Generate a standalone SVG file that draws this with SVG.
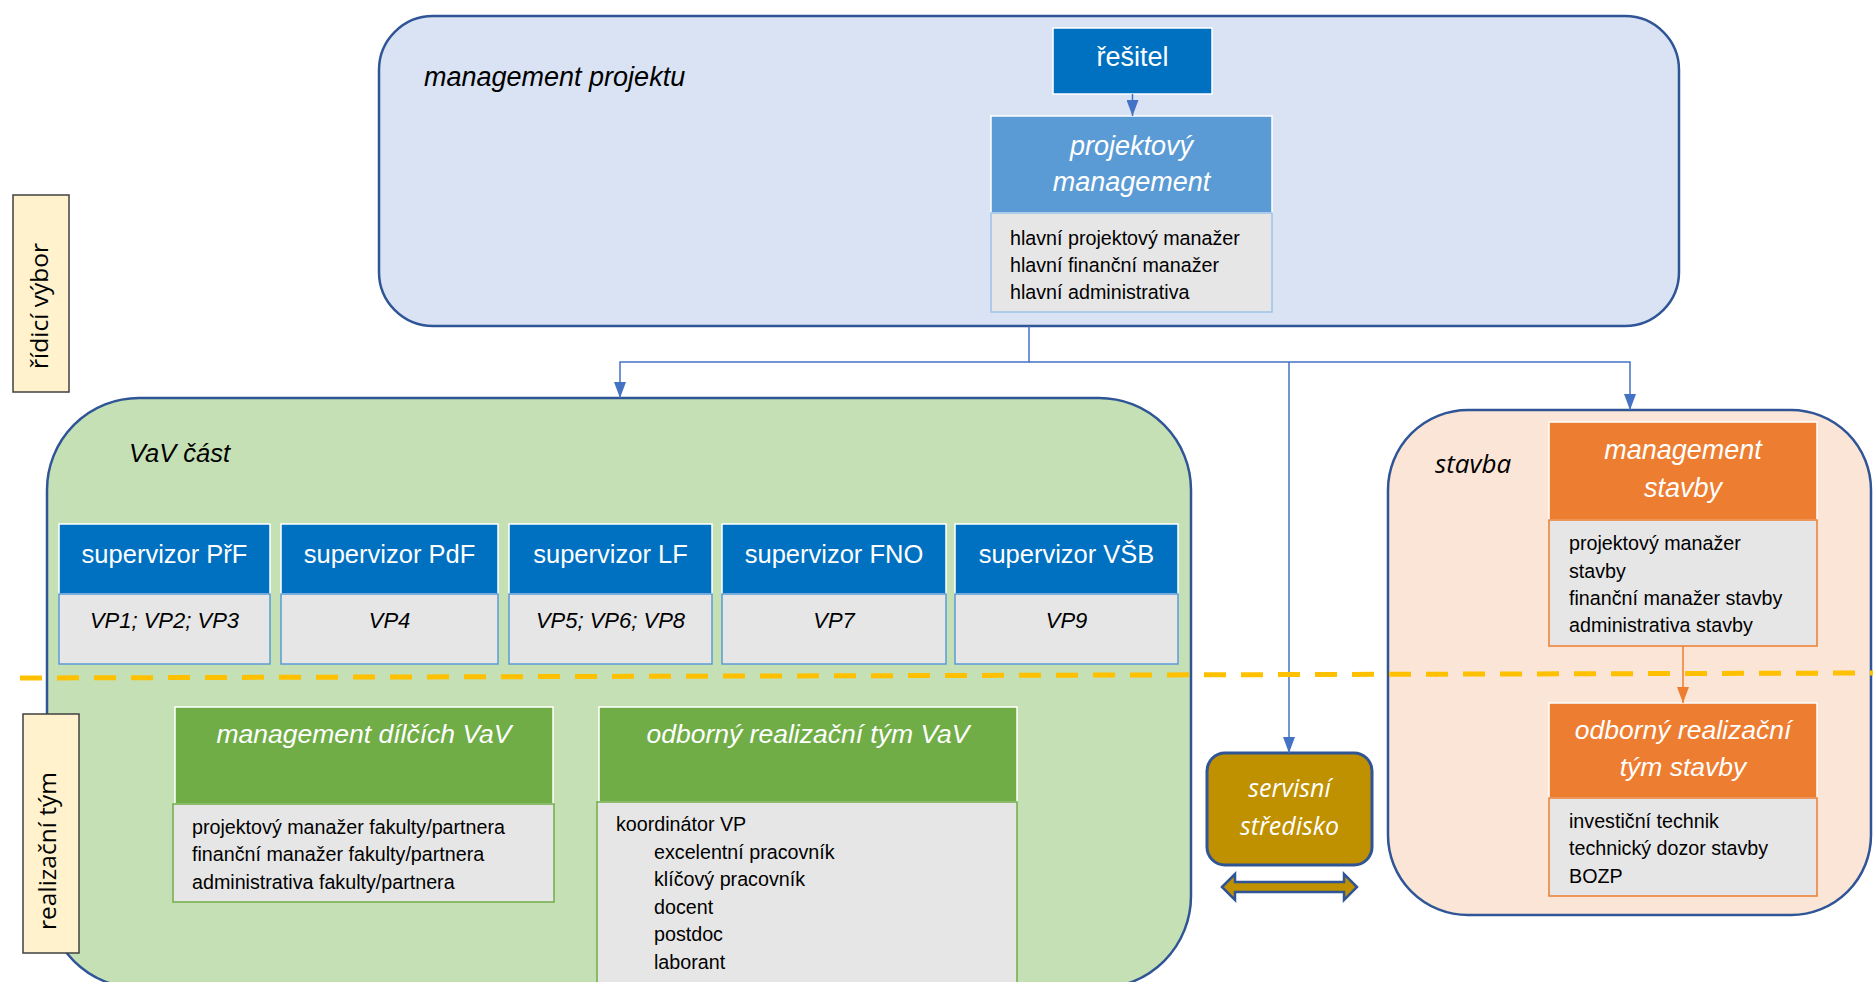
<svg xmlns="http://www.w3.org/2000/svg" width="1873" height="982" viewBox="0 0 1873 982">
<defs>
<style>
.t{font-family:"Liberation Sans",Arial,sans-serif}
.os{font-family:"Open Sans","DejaVu Sans",sans-serif}
.it{font-style:italic}
.w{fill:#FFFFFF}
.k{fill:#000000}
.mid{text-anchor:middle}
.cont{stroke:#2F5597;stroke-width:2.5}
.lbl{fill:#FFF2CC;stroke:#404040;stroke-width:1.5}
.hb{fill:#0070C0;stroke:#FFFFFF;stroke-width:1.5}
.hl{fill:#5B9BD5;stroke:#FFFFFF;stroke-width:1.5}
.hg{fill:#70AD47;stroke:#FFFFFF;stroke-width:1.5}
.ho{fill:#ED7D31;stroke:#FFFFFF;stroke-width:1.5}
.gb{fill:#E7E6E6;stroke:#5B9BD5;stroke-width:1.5}
.gl{fill:#E7E6E6;stroke:#9DC3E6;stroke-width:1.5}
.gg{fill:#E7E6E6;stroke:#70AD47;stroke-width:1.5}
.go{fill:#E7E6E6;stroke:#ED7D31;stroke-width:1.5}
.conn{fill:none;stroke:#4472C4;stroke-width:1.5}
.sup{font-size:25.5px}
.vp{font-size:22px}
.li{font-size:19.7px}
.ti{font-size:26.5px}
</style>
<marker id="ab" viewBox="0 0 16 12" markerUnits="userSpaceOnUse" markerWidth="16" markerHeight="12" refX="16" refY="6" orient="auto">
<path d="M0,0 L16,6 L0,12 Z" fill="#4472C4"/>
</marker>
<marker id="ao" viewBox="0 0 16 12" markerUnits="userSpaceOnUse" markerWidth="16" markerHeight="12" refX="16" refY="6" orient="auto">
<path d="M0,0 L16,6 L0,12 Z" fill="#ED7D31"/>
</marker>
</defs>
<rect width="1873" height="982" fill="#FFFFFF"/>

<g id="management-projektu">
<rect class="cont" x="379" y="16" width="1300" height="310" rx="54" fill="#DAE3F3"/>
<text class="t it k" x="424" y="86" font-size="27">management projektu</text>
</g>

<g id="vav-cast">
<rect class="cont" x="47" y="398" width="1144" height="590" rx="92" fill="#C5E0B4"/>
<text class="t it k" x="129" y="462" font-size="25.5">VaV část</text>
</g>

<g id="stavba">
<rect class="cont" x="1388" y="410" width="483" height="505" rx="80" fill="#FBE5D6"/>
<text class="os it k" x="1435" y="473" font-size="26">stavba</text>
</g>

<g id="ridici-vybor">
<rect class="lbl" x="13" y="195" width="56" height="197"/>
<text class="os k mid" transform="translate(48,306) rotate(-90)" font-size="24.5">řídicí výbor</text>
</g>

<g id="resitel">
<rect class="hb" x="1053" y="28" width="159" height="66"/>
<text class="t w mid" x="1132.5" y="66" font-size="27">řešitel</text>
</g>

<g id="projektovy-management">
<rect class="hl" x="991" y="116" width="281" height="97"/>
<text class="t it w mid" x="1131.5" y="155" font-size="27">projektový</text>
<text class="t it w mid" x="1131.5" y="191" font-size="27">management</text>
<rect class="gl" x="991" y="213" width="281" height="99"/>
<text class="t k li" x="1010" y="245">hlavní projektový manažer</text>
<text class="t k li" x="1010" y="272">hlavní finanční manažer</text>
<text class="t k li" x="1010" y="299">hlavní administrativa</text>
</g>

<g id="supervizor-prf">
<rect class="hb" x="59" y="524" width="211" height="70"/>
<rect class="gb" x="59" y="594" width="211" height="70"/>
<text class="t w mid sup" x="164.5" y="563">supervizor PřF</text>
<text class="t it k mid vp" x="164.5" y="628">VP1; VP2; VP3</text>
</g>
<g id="supervizor-pdf">
<rect class="hb" x="281" y="524" width="217" height="70"/>
<rect class="gb" x="281" y="594" width="217" height="70"/>
<text class="t w mid sup" x="389.5" y="563">supervizor PdF</text>
<text class="t it k mid vp" x="389.5" y="628">VP4</text>
</g>
<g id="supervizor-lf">
<rect class="hb" x="509" y="524" width="203" height="70"/>
<rect class="gb" x="509" y="594" width="203" height="70"/>
<text class="t w mid sup" x="610.5" y="563">supervizor LF</text>
<text class="t it k mid vp" x="610.5" y="628">VP5; VP6; VP8</text>
</g>
<g id="supervizor-fno">
<rect class="hb" x="722" y="524" width="224" height="70"/>
<rect class="gb" x="722" y="594" width="224" height="70"/>
<text class="t w mid sup" x="834" y="563">supervizor FNO</text>
<text class="t it k mid vp" x="834" y="628">VP7</text>
</g>
<g id="supervizor-vsb">
<rect class="hb" x="955" y="524" width="223" height="70"/>
<rect class="gb" x="955" y="594" width="223" height="70"/>
<text class="t w mid sup" x="1066.5" y="563">supervizor VŠB</text>
<text class="t it k mid vp" x="1066.5" y="628">VP9</text>
</g>

<g id="management-dilcich-vav">
<rect class="hg" x="175" y="707" width="378" height="97"/>
<text class="t it w mid ti" x="364" y="743">management dílčích VaV</text>
<rect class="gg" x="173" y="804" width="381" height="98"/>
<text class="t k li" x="192" y="834">projektový manažer fakulty/partnera</text>
<text class="t k li" x="192" y="861">finanční manažer fakulty/partnera</text>
<text class="t k li" x="192" y="889">administrativa fakulty/partnera</text>
</g>

<g id="odborny-realizacni-tym-vav">
<rect class="hg" x="599" y="707" width="418" height="95"/>
<text class="t it w mid ti" x="808" y="743">odborný realizační tým VaV</text>
<rect class="gg" x="597" y="802" width="420" height="195"/>
<text class="t k li" x="616" y="831">koordinátor VP</text>
<text class="t k li" x="654" y="859">excelentní pracovník</text>
<text class="t k li" x="654" y="886">klíčový pracovník</text>
<text class="t k li" x="654" y="914">docent</text>
<text class="t k li" x="654" y="941">postdoc</text>
<text class="t k li" x="654" y="969">laborant</text>
</g>

<g id="management-stavby">
<rect class="ho" x="1549" y="422" width="268" height="98"/>
<text class="t it w mid" x="1683" y="459" font-size="27">management</text>
<text class="t it w mid" x="1683" y="497" font-size="27">stavby</text>
<rect class="go" x="1549" y="520" width="268" height="126"/>
<text class="t k li" x="1569" y="550">projektový manažer</text>
<text class="t k li" x="1569" y="578">stavby</text>
<text class="t k li" x="1569" y="605">finanční manažer stavby</text>
<text class="t k li" x="1569" y="632">administrativa stavby</text>
</g>

<g id="odborny-realizacni-tym-stavby">
<rect class="ho" x="1549" y="703" width="268" height="95"/>
<text class="t it w mid" x="1683" y="739" font-size="26.5">odborný realizační</text>
<text class="t it w mid" x="1683" y="776" font-size="26.5">tým stavby</text>
<rect class="go" x="1549" y="798" width="268" height="98"/>
<text class="t k li" x="1569" y="828">investiční technik</text>
<text class="t k li" x="1569" y="855">technický dozor stavby</text>
<text class="t k li" x="1569" y="883">BOZP</text>
</g>

<g id="servisni-stredisko">
<rect x="1207" y="753" width="165" height="112" rx="18" fill="#BF9000" stroke="#2F5597" stroke-width="3"/>
<text class="os it w mid" x="1289.5" y="797" font-size="25">servisní</text>
<text class="os it w mid" x="1289.5" y="835" font-size="25">středisko</text>
</g>

<g id="connectors">
<path class="conn" d="M1132.5,94 V116" marker-end="url(#ab)"/>
<path class="conn" d="M1029,326 V362 H620 V398" marker-end="url(#ab)"/>
<path class="conn" d="M1029,362 H1630 V410" marker-end="url(#ab)"/>
<path class="conn" d="M1289,362 V753" marker-end="url(#ab)"/>
<path d="M1683,646 V703" fill="none" stroke="#ED7D31" stroke-width="1.5" marker-end="url(#ao)"/>
<path d="M1222,887 L1235,874 L1235,882 L1344,882 L1344,874 L1357,887 L1344,900 L1344,892 L1235,892 L1235,900 Z" fill="#BF9000" stroke="#2F5597" stroke-width="2.5" stroke-linejoin="miter"/>
</g>

<g id="divider">
<line x1="20" y1="678" x2="1873" y2="673" stroke="#FFC000" stroke-width="5" stroke-dasharray="22 15"/>
</g>

<g id="realizacni-tym">
<rect class="lbl" x="23" y="714" width="56" height="239"/>
<text class="os k mid" transform="translate(56,851) rotate(-90)" font-size="24.5">realizační tým</text>
</g>
</svg>
